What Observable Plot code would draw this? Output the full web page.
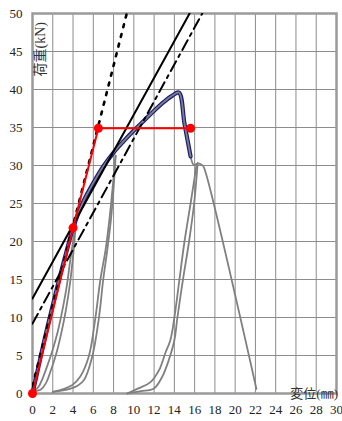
<!DOCTYPE html>
<html><head><meta charset="utf-8">
<script src="https://cdn.jsdelivr.net/npm/d3@7"></script>
<script src="https://cdn.jsdelivr.net/npm/@observablehq/plot@0.6"></script>
<style>
body{margin:0;background:#fff}
svg{display:block}
</style>
</head><body><div id="chart"></div>
<script>
const xTicks = d3.range(0, 31, 2);
const yTicks = d3.range(0, 51, 5);

// envelope (skeleton) curve
const envelope = [[0,0],[0.5,3],[1,6],[1.5,8.9],[2,11.6],[2.5,14.3],[3,16.9],[3.5,19.4],[4,21.8],[5,25.2],[6,27.7],[7,29.9],[8,31.7],[9,33.2],[10,34.6],[11,35.9],[12,37.2],[13,38.4],[13.8,39.2],[14.45,39.6],[15.0,35.5],[15.6,31.2]];
const envelopeTail = [[15.6,31.2],[15.9,30.1],[16.2,30.2]];

// cyclic loops
const loop1A = [[0.15,0.3],[0.6,0.9],[1.0,2.0],[1.5,3.8],[2.0,5.8],[2.5,8.2],[3.0,11.3],[3.4,14.3],[3.7,17.3],[4.0,20.0],[4.3,22.6]];
const loop1B = [[0.15,0.3],[0.8,0.5],[1.3,1.3],[1.8,3.0],[2.4,5.5],[2.9,8.3],[3.3,11.0],[3.7,14.5],[4.0,18.0],[4.3,22.6]];
const loop2A = [[2.0,0.2],[3.9,1.1],[4.7,2.2],[5.56,4.9],[6.2,9.9],[6.7,15.0],[7.2,18.8],[7.6,23.0],[7.9,27.0],[8.1,30.0],[8.2,31.3]];
const loop2B = [[2.0,0.2],[4.1,0.8],[5.06,1.75],[5.9,4.9],[6.55,9.9],[6.98,15.0],[7.37,18.8],[7.75,23.0],[8.0,27.0],[8.15,30.0],[8.2,31.3]];
const loop3A = [[9.35,0],[10.5,0.7],[11.65,1.5],[12.5,3.1],[13.1,5.3],[13.6,7.0],[14.0,10],[14.5,15],[15.0,20],[15.6,25],[16.2,30.2]];
const loop3B = [[9.35,0],[10.7,0.3],[11.98,0.65],[12.8,2.2],[13.45,4.4],[14.0,7.0],[14.3,10],[14.85,15],[15.45,20],[15.95,25],[16.3,30.3]];
const descending = [[16.3,30.3],[16.8,30.0],[17.1,29.0],[22.1,0.6]];

// bilinear model (red)
const redLine = [[0,0],[4,21.8],[6.5,34.9],[15.6,34.9]];

// reference straight lines
const solidLine = [[0,12.5],[15.5,50]];
const dashDotLine = [[0,9.2],[16.75,50]];
const dottedLine = [[0,1],[9.3,50]];

const yLabel = "荷重(kN)";
const xLabel = "変位(㎜)";

const serif = '"Liberation Serif","DejaVu Serif","Noto Sans CJK JP",serif';
const gray = "#808080";
const lineOpts = {x: d => d[0], y: d => d[1]};

const chart = Plot.plot({
  width: 342,
  height: 421,
  marginLeft: 32,
  marginRight: 6,
  marginTop: 13,
  marginBottom: 28,
  x: {domain: [0, 30]},
  y: {domain: [0, 50]},
  style: {background: "#fff"},
  marks: [
    Plot.ruleX(xTicks, {stroke: "#8c8c8c", strokeWidth: 1}),
    Plot.ruleY(yTicks, {stroke: "#8c8c8c", strokeWidth: 1}),
    Plot.frame({stroke: "#9a9a9a", strokeWidth: 2.5}),
    Plot.axisX(xTicks, {tickSize: 0, tickPadding: 11, fontSize: 13, fill: "#222"}),
    Plot.axisY(yTicks, {tickSize: 0, tickPadding: 10, fontSize: 13, fill: "#222"}),
    ...[loop1A, loop1B, loop2A, loop2B, loop3A, loop3B, descending, envelopeTail].map(d =>
      Plot.line(d, {...lineOpts, stroke: gray, strokeWidth: 1.8, curve: "catmull-rom"})),
    Plot.line(envelope, {...lineOpts, stroke: "#1c1c80", strokeWidth: 4.2, curve: "catmull-rom"}),
    Plot.line(envelope, {...lineOpts, stroke: gray, strokeWidth: 1.8, curve: "catmull-rom"}),
    Plot.line(solidLine, {...lineOpts, stroke: "#000", strokeWidth: 2, clip: true}),
    Plot.line(dashDotLine, {...lineOpts, stroke: "#000", strokeWidth: 2, strokeDasharray: "11,5,3,5", clip: true}),
    Plot.line(dottedLine, {...lineOpts, stroke: "#000", strokeWidth: 2.6, strokeDasharray: "3,7", clip: true}),
    Plot.line(redLine, {...lineOpts, stroke: "#ff0000", strokeWidth: 2}),
    Plot.dot(redLine, {...lineOpts, r: 4.5, fill: "#ff0000", stroke: "none"})
  ]
});

const svg = d3.select(chart);
svg.append("text")
  .attr("transform", "translate(45,22) rotate(-90)")
  .attr("text-anchor", "end")
  .attr("fill", "#333")
  .style("font-size", "14px")
  .text(yLabel);
svg.append("text")
  .attr("x", 338)
  .attr("y", 398)
  .attr("text-anchor", "end")
  .attr("fill", "#333")
  .style("font-size", "13px")
  .text(xLabel);
svg.selectAll("text").style("font-family", serif);

document.getElementById("chart").appendChild(chart);
</script>
</body></html>
